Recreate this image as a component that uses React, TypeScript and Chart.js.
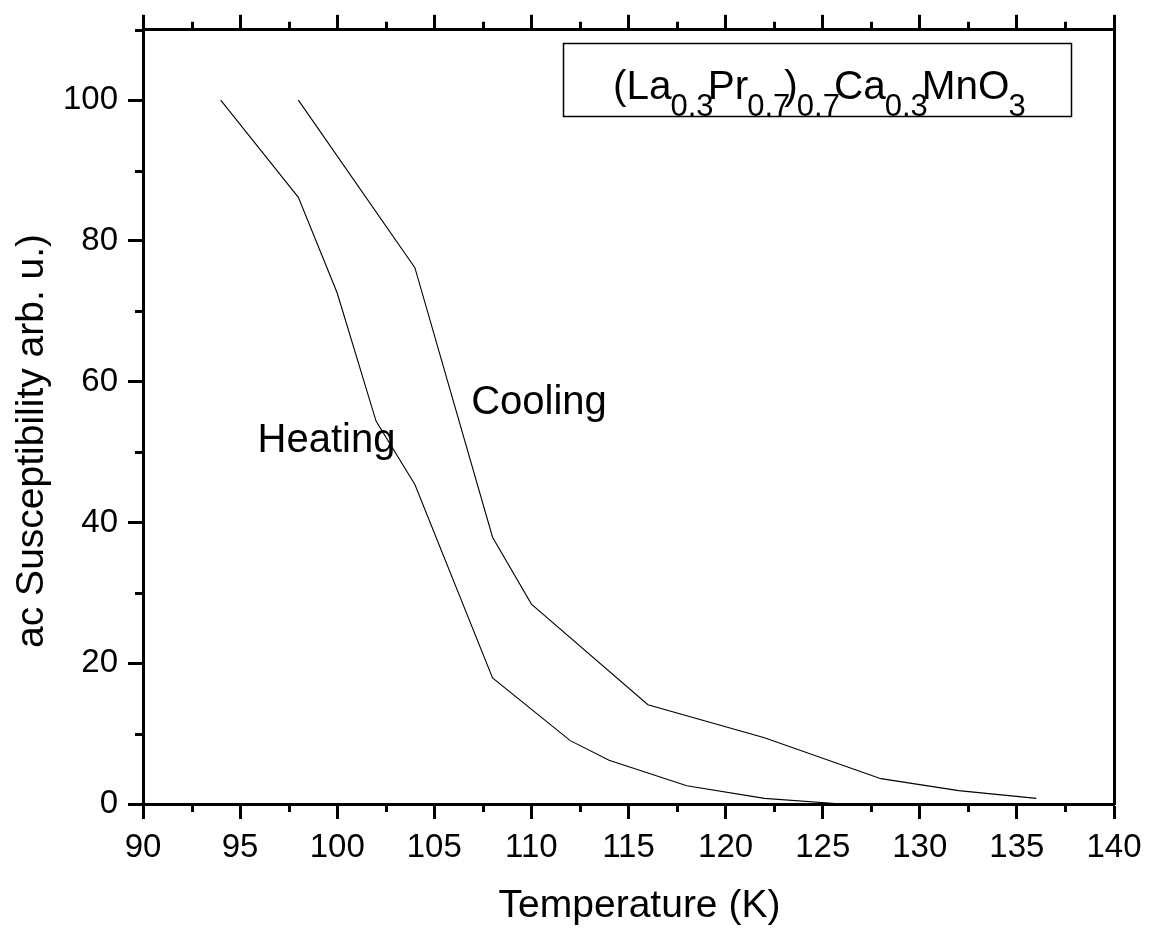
import React, { useEffect, useRef } from 'react';
import { Chart, registerables } from 'chart.js';

Chart.register(...registerables);

// ---- data ----
const heatingTemp = [94, 98, 100, 102, 104, 108, 112, 114, 118, 122, 126];
const heatingChi = [100, 86.2, 72.6, 54.4, 45.4, 17.9, 9.0, 6.2, 2.6, 0.8, 0];
const coolingTemp = [98, 104, 108, 110, 116, 122, 128, 132, 136];
const coolingChi = [100, 76.2, 37.9, 28.4, 14.1, 9.4, 3.6, 1.9, 0.8];

// ---- axes ----
const xMin = 90;
const xMax = 140;
const xTickStep = 2.5;
const xLabelStep = 5;
const yMin = 0;
const yMax = 110;
const yTickStep = 10;
const yLabelStep = 20;

// ---- texts ----
const xTitle = 'Temperature (K)';
const yTitle = 'ac Susceptibility arb. u.)';
const curveNames = ['Heating', 'Cooling'];
const curveNameAt = [
  [95.9, 50.0],
  [106.9, 55.4],
];
const formulaParts = ['(La', '0.3', 'Pr', '0.7', ')', '0.7', 'Ca', '0.3', 'MnO', '3'];
const formulaIsSub = [false, true, false, true, false, true, false, true, false, true];
const formulaBox = { x0: 111.65, x1: 137.8, y0: 108.15, y1: 97.8 };
const formulaStart = { x: 114.2, y: 100.2 };

const FONT = '"Liberation Sans", Arial, Helvetica, sans-serif';
const W = 1153;
const H = 932;

const isMultiple = (v: number, step: number) => Math.abs(v / step - Math.round(v / step)) < 1e-6;

const decorPlugin = {
  id: 'decor',
  afterDraw(chart: any) {
    const ctx: CanvasRenderingContext2D = chart.ctx;
    const ca = chart.chartArea;
    const sx = chart.scales.x;
    const sy = chart.scales.y;
    ctx.save();

    // minor ticks
    ctx.strokeStyle = '#000';
    ctx.lineWidth = 3;
    ctx.lineCap = 'butt';
    const minorLen = 8;
    ctx.beginPath();
    for (const t of sx.ticks) {
      if (isMultiple(t.value, xLabelStep)) continue;
      const px = Math.round(sx.getPixelForValue(t.value)) + 0.5;
      ctx.moveTo(px, ca.bottom);
      ctx.lineTo(px, ca.bottom + minorLen);
      ctx.moveTo(px, ca.top);
      ctx.lineTo(px, ca.top - minorLen);
    }
    for (const t of sy.ticks) {
      if (isMultiple(t.value, yLabelStep)) continue;
      const py = Math.round(sy.getPixelForValue(t.value)) + 0.5;
      ctx.moveTo(ca.left, py);
      ctx.lineTo(ca.left - minorLen, py);
    }
    ctx.stroke();

    // axis titles
    ctx.fillStyle = '#000';
    ctx.font = `39px ${FONT}`;
    ctx.textAlign = 'center';
    ctx.textBaseline = 'alphabetic';
    ctx.fillText(xTitle, (ca.left + ca.right) / 2 + 11, ca.bottom + 113);
    ctx.save();
    ctx.translate(ca.left - 100, (ca.top + ca.bottom) / 2 + 24);
    ctx.rotate(-Math.PI / 2);
    ctx.fillText(yTitle, 0, 0);
    ctx.restore();

    // curve labels
    ctx.font = `40px ${FONT}`;
    ctx.textAlign = 'left';
    curveNames.forEach((name, i) => {
      ctx.fillText(name, sx.getPixelForValue(curveNameAt[i][0]), sy.getPixelForValue(curveNameAt[i][1]));
    });

    // formula box
    const bx0 = sx.getPixelForValue(formulaBox.x0);
    const bx1 = sx.getPixelForValue(formulaBox.x1);
    const by0 = sy.getPixelForValue(formulaBox.y0);
    const by1 = sy.getPixelForValue(formulaBox.y1);
    ctx.lineWidth = 1.5;
    ctx.strokeRect(Math.round(bx0) + 0.5, Math.round(by0) + 0.5, Math.round(bx1 - bx0), Math.round(by1 - by0));

    let x = sx.getPixelForValue(formulaStart.x);
    const base = sy.getPixelForValue(formulaStart.y);
    formulaParts.forEach((part, i) => {
      if (formulaIsSub[i]) {
        ctx.font = `31px ${FONT}`;
        ctx.fillText(part, x - 1, base + 17);
        ctx.font = `26px ${FONT}`;
        x += ctx.measureText(part).width;
      } else {
        ctx.font = `40.5px ${FONT}`;
        ctx.fillText(part, x, base);
        x += ctx.measureText(part).width;
      }
    });

    ctx.restore();
  },
};

export default function App() {
  const canvasRef = useRef<HTMLCanvasElement | null>(null);

  useEffect(() => {
    const canvas = canvasRef.current;
    if (!canvas) return;

    const majorColor = (step: number) => (c: any) =>
      c.tick && isMultiple(c.tick.value, step) ? '#000' : 'rgba(0,0,0,0)';

    const chart = new Chart(canvas, {
      type: 'line',
      data: {
        datasets: [
          {
            label: curveNames[0],
            data: heatingTemp.map((t, i) => ({ x: t, y: heatingChi[i] })),
            borderColor: '#000',
            borderWidth: 1.1,
            pointRadius: 0,
            tension: 0,
            fill: false,
            xAxisID: 'x',
            yAxisID: 'y',
          },
          {
            label: curveNames[1],
            data: coolingTemp.map((t, i) => ({ x: t, y: coolingChi[i] })),
            borderColor: '#000',
            borderWidth: 1.1,
            pointRadius: 0,
            tension: 0,
            fill: false,
            xAxisID: 'x',
            yAxisID: 'y',
          },
        ],
      },
      options: {
        animation: false,
        responsive: false,
        devicePixelRatio: 1,
        layout: { padding: 0 },
        plugins: {
          legend: { display: false },
          tooltip: { enabled: false },
          title: { display: false },
        },
        scales: {
          x: {
            type: 'linear',
            position: 'bottom',
            min: xMin,
            max: xMax,
            ticks: {
              stepSize: xTickStep,
              autoSkip: false,
              maxRotation: 0,
              padding: 9,
              color: '#000',
              font: { family: FONT, size: 33 },
              callback: (v: any) => (isMultiple(Number(v), xLabelStep) ? String(v) : ''),
            },
            grid: {
              drawOnChartArea: false,
              drawTicks: true,
              tickLength: 15,
              tickWidth: 3,
              tickColor: majorColor(xLabelStep),
            },
            border: { display: true, color: '#000', width: 3 },
            afterFit: (s: any) => {
              s.height = 128;
            },
          },
          x2: {
            type: 'linear',
            position: 'top',
            min: xMin,
            max: xMax,
            ticks: { stepSize: xTickStep, display: false, autoSkip: false },
            grid: {
              drawOnChartArea: false,
              drawTicks: true,
              tickLength: 15,
              tickWidth: 3,
              tickColor: majorColor(xLabelStep),
            },
            border: { display: true, color: '#000', width: 3 },
            afterFit: (s: any) => {
              s.height = 24;
            },
          },
          y: {
            type: 'linear',
            position: 'left',
            min: yMin,
            max: yMax,
            ticks: {
              stepSize: yTickStep,
              autoSkip: false,
              padding: 10,
              color: '#000',
              font: { family: FONT, size: 33 },
              callback: (v: any) => (isMultiple(Number(v), yLabelStep) ? String(v) : ''),
            },
            grid: {
              drawOnChartArea: false,
              drawTicks: true,
              tickLength: 15,
              tickWidth: 3,
              tickColor: majorColor(yLabelStep),
            },
            border: { display: true, color: '#000', width: 3 },
            afterFit: (s: any) => {
              s.width = 143;
            },
          },
          y2: {
            type: 'linear',
            position: 'right',
            min: yMin,
            max: yMax,
            ticks: { display: false },
            grid: { drawOnChartArea: false, drawTicks: false },
            border: { display: true, color: '#000', width: 3 },
            afterFit: (s: any) => {
              s.width = 39;
            },
          },
        },
      },
      plugins: [decorPlugin],
    });

    return () => {
      chart.destroy();
    };
  }, []);

  return (
    <div style={{ position: 'absolute', left: 0, top: 0, width: W, height: H, background: '#fff' }}>
      <canvas ref={canvasRef} width={W} height={H} style={{ display: 'block' }} />
    </div>
  );
}
